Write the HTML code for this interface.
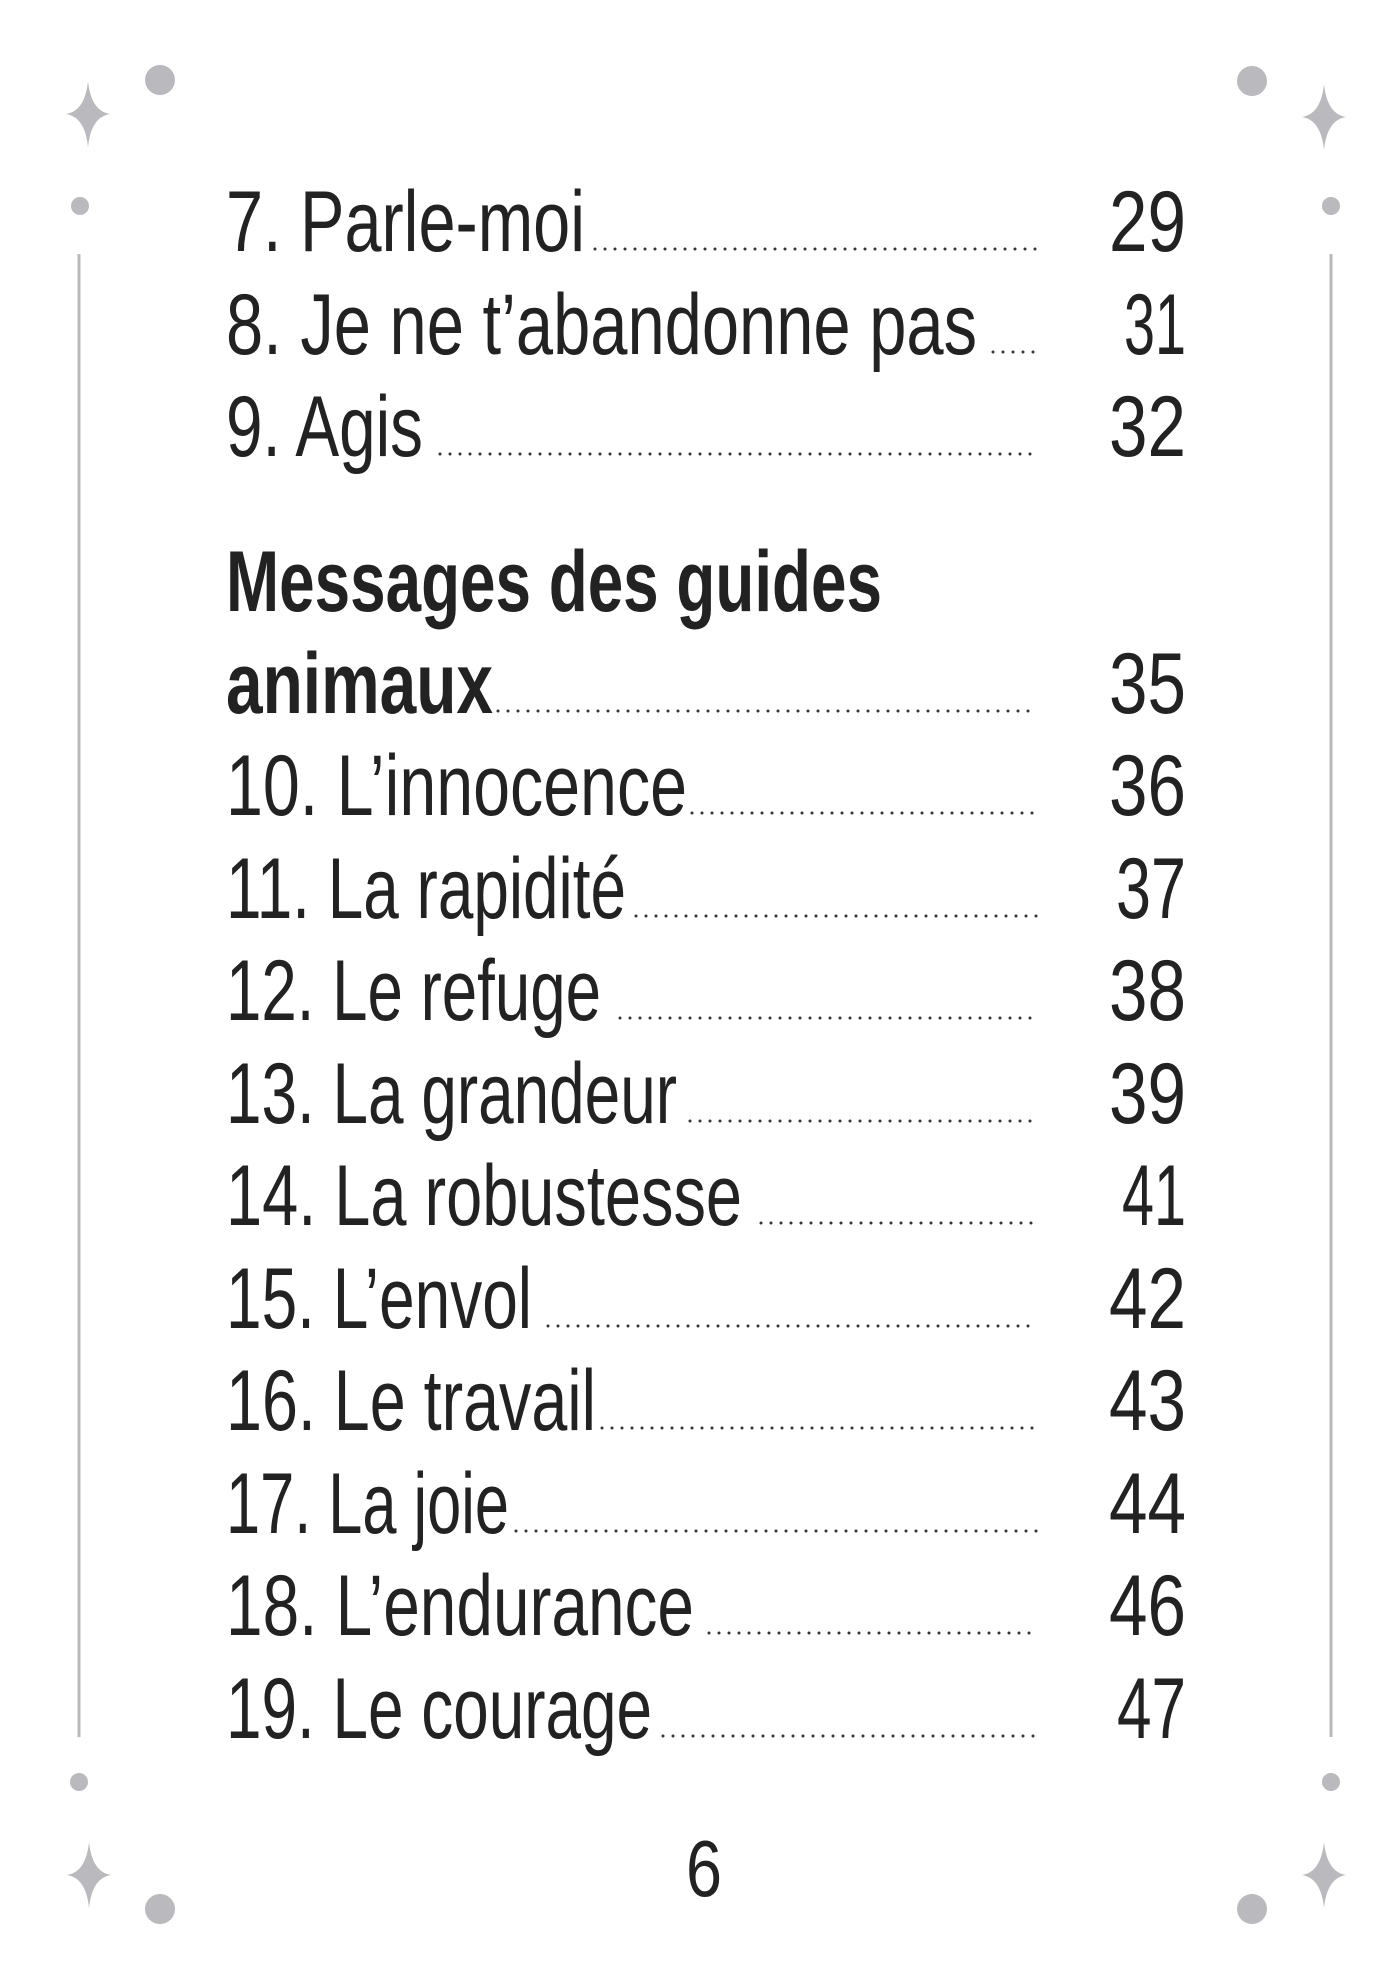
<!DOCTYPE html>
<html><head><meta charset="utf-8"><style>
html,body{margin:0;padding:0;background:#fff;}
svg{display:block;}
text{font-family:"Liberation Sans",sans-serif;fill:#222;}
</style></head><body>
<svg width="1400" height="1978" viewBox="0 0 1400 1978" xmlns="http://www.w3.org/2000/svg">
<defs>
<path id="st" d="M0,-33 Q3,-3 22,0 Q3,3 0,33 Q-3,3 -22,0 Q-3,-3 0,-33Z" fill="#b9b9be"/>
</defs>
<g fill="#b9b9be">
<use href="#st" x="88" y="114"/><use href="#st" x="1324" y="117"/>
<use href="#st" x="89" y="1875"/><use href="#st" x="1324" y="1875"/>
<circle cx="160" cy="80" r="15"/><circle cx="1252" cy="81" r="15"/>
<circle cx="160" cy="1909" r="15"/><circle cx="1252" cy="1909" r="15"/>
<circle cx="80" cy="206" r="9"/><circle cx="1331" cy="206" r="9"/>
<circle cx="79" cy="1782" r="9"/><circle cx="1331" cy="1782" r="9"/>
</g>
<g stroke="#b9b9be" stroke-width="3">
<line x1="79" y1="254" x2="79" y2="1737"/><line x1="1331" y1="254" x2="1331" y2="1737"/>
</g>
<g stroke="#333" stroke-width="3" stroke-linecap="round" stroke-dasharray="0 10">
<line x1="595" y1="249" x2="1037" y2="249"/>
<line x1="993" y1="352" x2="1037" y2="352"/>
<line x1="440" y1="454" x2="1037" y2="454"/>
<line x1="498" y1="711" x2="1037" y2="711"/>
<line x1="692" y1="813" x2="1037" y2="813"/>
<line x1="636" y1="916" x2="1037" y2="916"/>
<line x1="620" y1="1018" x2="1037" y2="1018"/>
<line x1="690" y1="1121" x2="1037" y2="1121"/>
<line x1="761" y1="1223" x2="1037" y2="1223"/>
<line x1="548" y1="1326" x2="1037" y2="1326"/>
<line x1="602" y1="1428" x2="1037" y2="1428"/>
<line x1="516" y1="1531" x2="1037" y2="1531"/>
<line x1="709" y1="1633" x2="1037" y2="1633"/>
<line x1="663" y1="1736" x2="1037" y2="1736"/>
</g>
<g font-size="86" lengthAdjust="spacingAndGlyphs">
<text x="226" y="251" textLength="359" lengthAdjust="spacingAndGlyphs">7. Parle-moi</text>
<text x="226" y="354" textLength="751" lengthAdjust="spacingAndGlyphs">8. Je ne t’abandonne pas</text>
<text x="226" y="456" textLength="197" lengthAdjust="spacingAndGlyphs">9. Agis</text>
<text x="226" y="611" textLength="656" lengthAdjust="spacingAndGlyphs" font-weight="bold">Messages des guides</text>
<text x="226" y="713" textLength="267" lengthAdjust="spacingAndGlyphs" font-weight="bold">animaux</text>
<text x="226" y="815" textLength="461" lengthAdjust="spacingAndGlyphs">10. L’innocence</text>
<text x="226" y="918" textLength="400" lengthAdjust="spacingAndGlyphs">11. La rapidité</text>
<text x="226" y="1020" textLength="375" lengthAdjust="spacingAndGlyphs">12. Le refuge</text>
<text x="226" y="1123" textLength="451" lengthAdjust="spacingAndGlyphs">13. La grandeur</text>
<text x="226" y="1225" textLength="516" lengthAdjust="spacingAndGlyphs">14. La robustesse</text>
<text x="226" y="1328" textLength="306" lengthAdjust="spacingAndGlyphs">15. L’envol</text>
<text x="226" y="1430" textLength="370" lengthAdjust="spacingAndGlyphs">16. Le travail</text>
<text x="226" y="1533" textLength="283" lengthAdjust="spacingAndGlyphs">17. La joie</text>
<text x="226" y="1635" textLength="468" lengthAdjust="spacingAndGlyphs">18. L’endurance</text>
<text x="226" y="1738" textLength="426" lengthAdjust="spacingAndGlyphs">19. Le courage</text>
</g>
<g font-size="86">
<text x="1109" y="251" textLength="77" lengthAdjust="spacingAndGlyphs">29</text>
<text x="1124" y="354" textLength="62" lengthAdjust="spacingAndGlyphs">31</text>
<text x="1109" y="456" textLength="77" lengthAdjust="spacingAndGlyphs">32</text>
<text x="1109" y="713" textLength="77" lengthAdjust="spacingAndGlyphs">35</text>
<text x="1109" y="815" textLength="77" lengthAdjust="spacingAndGlyphs">36</text>
<text x="1116" y="918" textLength="70" lengthAdjust="spacingAndGlyphs">37</text>
<text x="1109" y="1020" textLength="77" lengthAdjust="spacingAndGlyphs">38</text>
<text x="1109" y="1123" textLength="77" lengthAdjust="spacingAndGlyphs">39</text>
<text x="1122" y="1225" textLength="64" lengthAdjust="spacingAndGlyphs">41</text>
<text x="1109" y="1328" textLength="77" lengthAdjust="spacingAndGlyphs">42</text>
<text x="1109" y="1430" textLength="77" lengthAdjust="spacingAndGlyphs">43</text>
<text x="1109" y="1533" textLength="77" lengthAdjust="spacingAndGlyphs">44</text>
<text x="1109" y="1635" textLength="77" lengthAdjust="spacingAndGlyphs">46</text>
<text x="1117" y="1738" textLength="69" lengthAdjust="spacingAndGlyphs">47</text>
<text x="686" y="1896" font-size="80" textLength="36" lengthAdjust="spacingAndGlyphs">6</text>
</g>
</svg>
</body></html>
